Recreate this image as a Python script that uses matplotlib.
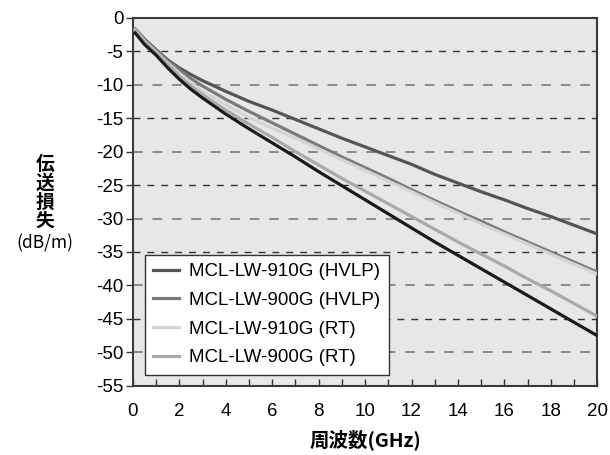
import matplotlib
matplotlib.use("Agg")
import matplotlib.pyplot as plt

freq = [0.1, 0.5, 1, 1.5, 2, 2.5, 3, 4, 5, 6, 7, 8, 9, 10, 11, 12, 13, 14, 15, 16, 17, 18, 19, 20]
s910_hvlp = [-1.7, -3.2, -4.8, -6.3, -7.5, -8.5, -9.4, -11.0, -12.5, -13.8, -15.2, -16.6, -18.0, -19.3,
             -20.6, -21.9, -23.4, -24.7, -26.0, -27.2, -28.5, -29.7, -31.0, -32.3]
s900_hvlp = [-1.7, -3.3, -4.9, -6.4, -7.8, -9.1, -10.2, -12.2, -14.0, -15.7, -17.4, -19.1, -20.8, -22.4,
             -24.0, -25.7, -27.3, -28.9, -30.4, -32.0, -33.5, -35.0, -36.5, -38.0]
s910_rt = [-1.8, -3.5, -5.1, -6.8, -8.3, -9.7, -11.0, -13.0, -14.9, -16.5, -18.0, -19.6, -21.2, -22.8,
           -24.4, -26.0, -27.6, -29.2, -30.8, -32.3, -33.8, -35.3, -36.8, -38.3]
s900_rt = [-1.9, -3.6, -5.2, -7.0, -8.7, -10.2, -11.5, -13.8, -15.9, -17.9, -20.0, -22.0, -24.0, -25.9,
           -27.8, -29.7, -31.6, -33.5, -35.3, -37.1, -39.0, -40.8, -42.7, -44.6]
s_black = [-2.3, -4.0, -5.6, -7.5, -9.2, -10.7, -12.0, -14.4, -16.6, -18.7, -20.8, -23.0, -25.1, -27.2,
           -29.3, -31.4, -33.5, -35.5, -37.5, -39.5, -41.5, -43.5, -45.5, -47.5]

labels = ["MCL-LW-910G (HVLP)", "MCL-LW-900G (HVLP)", "MCL-LW-910G (RT)", "MCL-LW-900G (RT)"]
colors = ["#555555", "#7b7b7b", "#d4d4d4", "#a9a9a9"]
black_color = "#1a1a1a"

xticks = [0, 2, 4, 6, 8, 10, 12, 14, 16, 18, 20]
yticks = [0, -5, -10, -15, -20, -25, -30, -35, -40, -45, -50, -55]

latin = ["Liberation Sans", "Noto Sans CJK JP", "DejaVu Sans"]
cjk = ["Noto Sans CJK JP", "DejaVu Sans"]
plt.rcParams['font.family'] = latin

fig = plt.figure(figsize=(6.1, 4.55), dpi=100)
ax = fig.add_axes([0.218, 0.152, 0.761, 0.809])
ax.set_facecolor("#e6e7e8")

ax.set_xlim(0, 20)
ax.set_ylim(-55, 0)

# grid lines alternating dark / gray
for y in yticks:
    if y in (0, -55):
        continue
    if (y // 5) % 2 != 0:
        ax.axhline(y, color="#333333", lw=1.0, ls=(0, (5, 5)), zorder=1)
    else:
        ax.axhline(y, color="#8a8a8a", lw=1.4, ls=(0, (5, 5)), zorder=1)

series = [s910_hvlp, s900_hvlp, s910_rt, s900_rt]
for s, c, lab in zip(series, colors, labels):
    ax.plot(freq, s, color=c, lw=2.3, label=lab, zorder=3)
ax.plot(freq, s_black, color=black_color, lw=2.3, zorder=4, label='_nolegend_')

ax.set_xticks(xticks)
ax.set_xticklabels([str(v) for v in xticks])
ax.set_xticks(list(range(0, 21)), minor=True)
ax.set_yticks(yticks)
ax.set_yticklabels([str(v) for v in yticks])

ax.tick_params(axis='x', which='both', direction='in', length=5, width=1, color="#333333",
               labelsize=13.5, pad=12)
ax.tick_params(axis='y', direction='out', length=5, width=1, color="#333333",
               labelsize=13.5, pad=2)
for sp in ax.spines.values():
    sp.set_color("#3a3a3a")
    sp.set_linewidth(1.5)

leg = ax.legend(loc='lower left', bbox_to_anchor=(0.026, 0.03), fontsize=13.5,
                frameon=True, fancybox=False, edgecolor="#333333", framealpha=1,
                handlelength=1.35, handletextpad=0.55, labelspacing=0.62,
                borderpad=0.45, borderaxespad=0)
leg.get_frame().set_linewidth(1.0)
leg.set_zorder(5)

# y label: stacked characters
ylab_chars = ["伝", "送", "損", "失"]
for i, ch in enumerate(ylab_chars):
    fig.text(45 / 610, 1 - (164 + i * 19) / 455, ch, ha='center', va='center',
             fontsize=13.5, fontweight='bold', family=cjk)
fig.text(45 / 610, 1 - 243 / 455, "(dB/m)", ha='center', va='center',
         fontsize=12.5, family=cjk)

fig.text(365 / 610, 1 - 440 / 455, "周波数(GHz)", ha='center', va='center',
         fontsize=14, fontweight='bold', family=cjk)

fig.savefig("out.png", dpi=100, facecolor="white")
